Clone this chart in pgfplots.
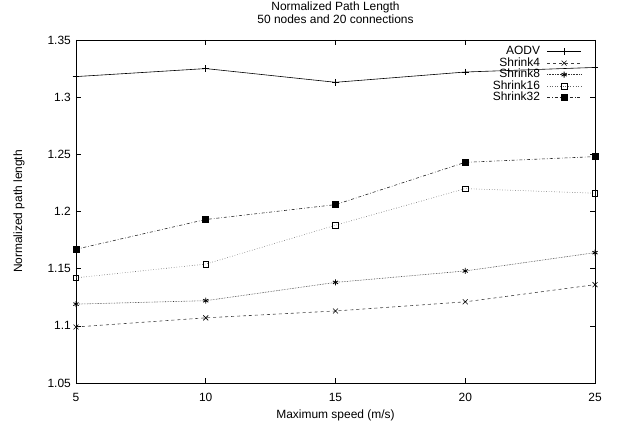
\documentclass[border=0pt]{standalone}
\usepackage{fontspec}
\setmainfont{Liberation Sans}
\usepackage{pgfplots}
\pgfplotsset{compat=1.18}
\begin{document}
\fontsize{12}{14}\selectfont
\begin{tikzpicture}
\useasboundingbox (-76bp,-40bp) rectangle (547bp,383bp);
\begin{axis}[
    scale only axis,
    width=519bp, height=343bp,
    xmin=5, xmax=25, ymin=1.05, ymax=1.35,
    xtick={5,10,15,20,25},
    ytick={1.05,1.1,1.15,1.2,1.25,1.3,1.35},
    tick align=inside,
    major tick length=5bp,
    /pgf/number format/assume math mode=true,
    yticklabel style={/pgf/number format/fixed, /pgf/number format/precision=2, xshift=-1bp},
    xticklabel style={yshift=-6bp},
    xlabel={Maximum speed (m/s)},
    ylabel={Normalized path length},
    xlabel style={at={(axis description cs:0.5,0)}, anchor=center, yshift=-32bp},
    ylabel style={at={(axis description cs:0,0.5)}, anchor=center, yshift=57bp},
    title={Normalized Path Length\\50 nodes and 20 connections},
    title style={at={(axis description cs:0.5,1)}, anchor=center, yshift=21.5bp,
        align=center, font=\fontsize{12}{13}\selectfont},
    axis line style={line width=1pt},
    every tick/.style={black, line width=0.6pt},
    legend style={draw=none, fill=none, at={(0.98,0.99)}, anchor=north east,
        legend plot pos=right, row sep=-0.5bp, font=\fontsize{12}{12}\selectfont,
        nodes={inner sep=0.6bp, text height=8.6bp, text depth=2.2bp}},
    legend cell align=right,
    legend image code/.code={\path (0cm,0cm);
        \draw[mark repeat=2,mark phase=2,#1] plot coordinates {(0.22cm,0cm) (0.82cm,0cm) (1.42cm,0cm)};},
    every axis plot/.append style={line width=0.6pt},
]
\addplot[black, solid, mark=+, mark size=3.5pt] coordinates {
    (5,1.318)(10,1.325)(15,1.313)(20,1.322)(25,1.326)};
\addlegendentry{AODV}
\addplot[black!75, dashed, mark=x, mark size=3.5pt, mark options={solid, black}] coordinates {
    (5,1.099)(10,1.107)(15,1.113)(20,1.121)(25,1.136)};
\addlegendentry{Shrink4}
\addplot[black!80, densely dotted, mark=asterisk, mark size=3pt, mark options={solid, black, line width=0.8pt}] coordinates {
    (5,1.119)(10,1.122)(15,1.138)(20,1.148)(25,1.164)};
\addlegendentry{Shrink8}
\addplot[black!60, dotted, mark=square, mark options={solid, black, mark size=2.8pt}] coordinates {
    (5,1.142)(10,1.154)(15,1.188)(20,1.220)(25,1.216)};
\addlegendentry{Shrink16}
\addplot[black!85, dash dot, mark=square*, mark options={solid, black, mark size=3pt}] coordinates {
    (5,1.167)(10,1.193)(15,1.206)(20,1.243)(25,1.248)};
\addlegendentry{Shrink32}
\end{axis}
\end{tikzpicture}
\end{document}
